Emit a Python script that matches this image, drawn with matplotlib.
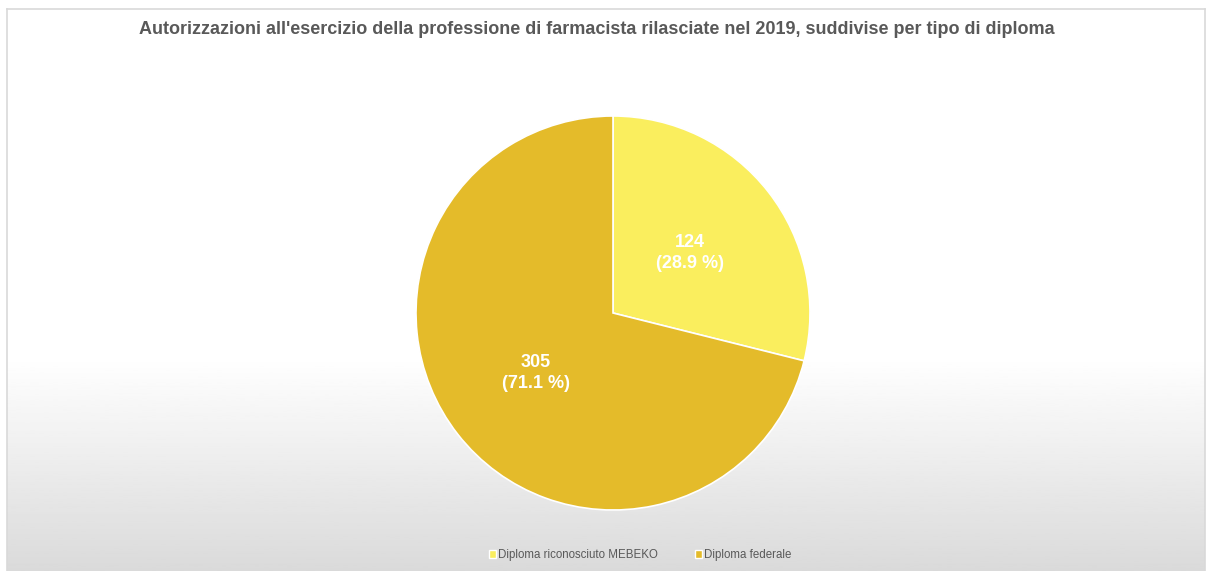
import matplotlib.pyplot as plt
import numpy as np

labels = ["Diploma riconosciuto MEBEKO", "Diploma federale"]
values = [124, 305]
colors = ["#FAEE5E", "#E4BB2A"]

plt.rcParams['font.family'] = ['Liberation Sans', 'DejaVu Sans']

fig = plt.figure(figsize=(12.07, 5.71), dpi=100)
W, H = 1207, 571

# background panel with grey gradient at the bottom
bg = fig.add_axes([7 / W, 0, 1198 / W, 1 - 9 / H])
grad = np.ones((300, 1))
t = np.linspace(0, 1, 300)
grad[:, 0] = np.where(t < 0.62, 1.0, 1.0 - (t - 0.62) / 0.38 * 0.145)
bg.imshow(grad, cmap="gray", vmin=0, vmax=1, aspect="auto", extent=[0, 1, 0, 1])
bg.set_xticks([])
bg.set_yticks([])
for s in bg.spines.values():
    s.set_color("#d9d9d9")
    s.set_linewidth(1.2)
bg.spines["bottom"].set_visible(False)

# pie
r = 197
cx, cy = 613, 313
ax = fig.add_axes([(cx - r) / W, 1 - (cy + r) / H, 2 * r / W, 2 * r / H])
total = sum(values)
wedges, _ = ax.pie(values, colors=colors, startangle=90, counterclock=False,
                   wedgeprops=dict(edgecolor="white", linewidth=1.2), radius=1)
ax.set_xlim(-1.0, 1.0)
ax.set_ylim(-1.0, 1.0)
ax.set_aspect("auto")

for v, w in zip(values, wedges):
    mid = np.deg2rad((w.theta1 + w.theta2) / 2)
    ax.text(0.495 * np.cos(mid), 0.495 * np.sin(mid),
            f"{v}\n({v / total * 100:.1f} %)", ha="center", va="center",
            color="white", fontsize=13, fontweight="bold", linespacing=1.3)

fig.text(597 / W, 1 - 30 / H,
         "Autorizzazioni all'esercizio della professione di farmacista rilasciate nel 2019, suddivise per tipo di diploma",
         ha="center", va="center", fontsize=13, fontweight="bold", color="#595959")

handles = [plt.Rectangle((0, 0), 1, 1, facecolor=c, edgecolor="white") for c in colors]
fig.legend(handles, labels, loc="center", bbox_to_anchor=(640 / W, 1 - 555 / H),
           ncol=2, frameon=False, fontsize=8.3, handlelength=0.6, handleheight=0.6,
           handletextpad=0.2, columnspacing=3.2, labelcolor="#595959")

fig.savefig("out.png", dpi=100)
